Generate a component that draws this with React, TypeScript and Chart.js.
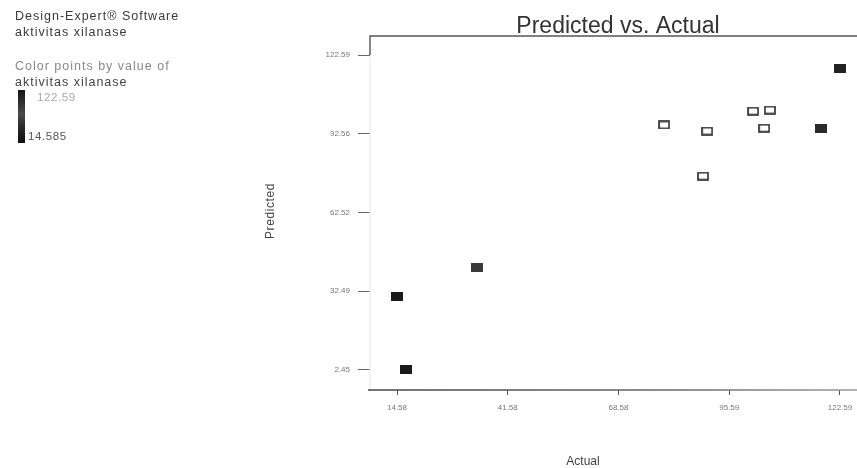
import React, { useEffect, useRef } from "react";
import { Chart, registerables } from "chart.js";

Chart.register(...registerables);

// Data
const actual = [16.8, 14.585, 34.1, 79.7, 90.2, 89.2, 101.4, 105.5, 104.1, 117.9, 122.59];
const predicted = [2.45, 30.3, 41.7, 95.9, 93.6, 76.4, 101.2, 101.6, 94.7, 94.7, 117.6];
const pointFills = ["#1a1a1a", "#1a1a1a", "#3a3a3a", "#ffffff", "#ffffff", "#ffffff", "#ffffff", "#ffffff", "#ffffff", "#2a2a2a", "#222222"];
const hollow = [false, false, false, true, true, true, true, true, true, false, false];

const xTickValues = [14.585, 41.586, 68.587, 95.588, 122.59];
const xTickLabels = ["14.58", "41.58", "68.58", "95.59", "122.59"];
const yTickValues = [2.45, 32.485, 62.52, 92.555, 122.59];
const yTickLabels = ["2.45", "32.49", "62.52", "92.56", "122.59"];

const FONT = "'Liberation Sans', Arial, sans-serif";

function makeMarker(fill: string, isHollow: boolean): HTMLCanvasElement {
  const c = document.createElement("canvas");
  const w = 12;
  const h = 9;
  c.width = w;
  c.height = h;
  const ctx = c.getContext("2d")!;
  if (isHollow) {
    ctx.fillStyle = "#ffffff";
    ctx.fillRect(0, 0, w, h);
    ctx.strokeStyle = "#333333";
    ctx.lineWidth = 1.7;
    ctx.strokeRect(1, 1, w - 2, h - 2);
  } else {
    ctx.fillStyle = fill;
    ctx.fillRect(0, 0, w, h);
  }
  return c;
}

const decorPlugin = {
  id: "decor",
  afterDraw(chart: any) {
    const ctx = chart.ctx as CanvasRenderingContext2D;
    const a = chart.chartArea;
    ctx.save();
    // frame lines
    ctx.strokeStyle = "#555555";
    ctx.lineWidth = 1.4;
    ctx.beginPath();
    ctx.moveTo(a.left, 55);
    ctx.lineTo(a.left, a.top);
    ctx.lineTo(857, a.top);
    ctx.stroke();
    ctx.strokeStyle = "#e6e6e6";
    ctx.lineWidth = 1;
    ctx.beginPath();
    ctx.moveTo(a.left, 57);
    ctx.lineTo(a.left, a.bottom);
    ctx.stroke();
    const grad = ctx.createLinearGradient(a.left, 0, 857, 0);
    grad.addColorStop(0, "#444444");
    grad.addColorStop(0.6, "#666666");
    grad.addColorStop(1, "#999999");
    ctx.strokeStyle = grad;
    ctx.lineWidth = 1.4;
    ctx.beginPath();
    ctx.moveTo(a.left - 2, a.bottom);
    ctx.lineTo(857, a.bottom);
    ctx.stroke();

    // title
    ctx.fillStyle = "#333333";
    ctx.font = `23px ${FONT}`;
    ctx.textAlign = "center";
    ctx.textBaseline = "middle";
    ctx.fillText("Predicted vs. Actual", 618, 27);

    // axis titles
    ctx.font = `12px ${FONT}`;
    ctx.fillStyle = "#444444";
    ctx.fillText("Actual", 583, 462);
    ctx.save();
    ctx.translate(271, 211);
    ctx.rotate(-Math.PI / 2);
    (ctx as any).letterSpacing = "0.6px";
    ctx.fillText("Predicted", 0, 0);
    ctx.restore();

    // top-left legend text
    ctx.textAlign = "left";
    (ctx as any).letterSpacing = "1px";
    ctx.font = `12.5px ${FONT}`;
    ctx.fillStyle = "#3a3a3a";
    ctx.fillText("Design-Expert\u00ae Software", 15, 17);
    ctx.fillText("aktivitas xilanase", 15, 33);
    ctx.fillStyle = "#8a8a8a";
    ctx.fillText("Color points by value of", 15, 67);
    ctx.fillStyle = "#444444";
    ctx.fillText("aktivitas xilanase", 15, 83);
    (ctx as any).letterSpacing = "0.6px";
    ctx.font = `11.5px ${FONT}`;
    ctx.fillStyle = "#aaaaaa";
    ctx.fillText("122.59", 37, 98);
    ctx.fillStyle = "#555555";
    ctx.fillText("14.585", 28, 137);
    (ctx as any).letterSpacing = "0px";

    // color bar
    const cg = ctx.createLinearGradient(0, 90, 0, 143);
    cg.addColorStop(0, "#151515");
    cg.addColorStop(0.45, "#4a4a4a");
    cg.addColorStop(0.7, "#2a2a2a");
    cg.addColorStop(1, "#101010");
    ctx.fillStyle = cg;
    ctx.fillRect(18, 90, 7, 53);
    ctx.restore();
  },
};

export default function App() {
  const ref = useRef<HTMLCanvasElement | null>(null);
  useEffect(() => {
    if (!ref.current) return;
    const points = actual.map((x, i) => ({ x, y: predicted[i] }));
    const styles = pointFills.map((f, i) => makeMarker(f, hollow[i]));
    const chart = new Chart(ref.current, {
      type: "scatter",
      data: {
        datasets: [
          {
            data: points,
            pointStyle: styles as any,
            pointRadius: 6,
            backgroundColor: pointFills,
            borderColor: "#333",
          },
        ],
      },
      options: {
        animation: false,
        responsive: false,
        maintainAspectRatio: false,
        layout: { autoPadding: false, padding: { left: 0, top: 36, right: 2, bottom: 0 } },
        plugins: { legend: { display: false }, tooltip: { enabled: false }, title: { display: false } },
        scales: {
          x: {
            type: "linear",
            min: 8.0,
            max: 126.25,
            afterFit: (s: any) => {
              s.height = 78;
              s.paddingLeft = 0;
              s.paddingRight = 0;
            },
            afterBuildTicks: (s: any) => {
              s.ticks = xTickValues.map((v) => ({ value: v }));
            },
            ticks: {
              autoSkip: false,
              maxRotation: 0,
              padding: 8,
              color: "#777777",
              font: { family: FONT, size: 8 },
              callback: (_v: any, i: number) => xTickLabels[i],
            },
            grid: { drawOnChartArea: false, drawTicks: true, tickLength: 5, color: "#555555" },
            border: { display: false },
          },
          y: {
            type: "linear",
            min: -5.18,
            max: 129.84,
            afterFit: (s: any) => {
              s.width = 370;
              s.paddingTop = 0;
              s.paddingBottom = 0;
            },
            afterBuildTicks: (s: any) => {
              s.ticks = yTickValues.map((v) => ({ value: v }));
            },
            ticks: {
              autoSkip: false,
              padding: 8,
              color: "#777777",
              font: { family: FONT, size: 8 },
              callback: (_v: any, i: number) => yTickLabels[i],
            },
            grid: { drawOnChartArea: false, drawTicks: true, tickLength: 12, color: "#666666" },
            border: { display: false },
          },
        },
      },
      plugins: [decorPlugin],
    });
    return () => chart.destroy();
  }, []);
  return (
    <div style={{ position: "absolute", left: 0, top: 0, width: 857, height: 468, background: "#fff" }}>
      <canvas ref={ref} width={857} height={468} style={{ display: "block", width: 857, height: 468 }} />
    </div>
  );
}
